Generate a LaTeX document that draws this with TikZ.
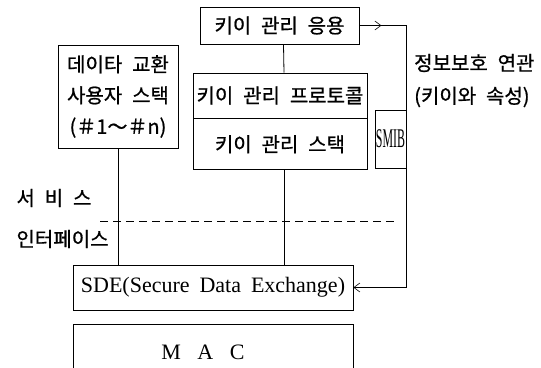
\documentclass[tikz,border=0pt]{standalone}
\usepackage{fontspec}
\setmainfont[WordSpace=1.8]{Liberation Serif}
\newfontfamily\kfont[WordSpace=2.2,FakeBold=0.8]{Noto Sans CJK KR}
\usetikzlibrary{arrows.meta}

\tikzset{
  box/.style={draw, line width=0.8pt, inner sep=0pt, align=center},
  kor/.style={font=\kfont\fontsize{20}{31}\selectfont},
  lat/.style={font=\fontsize{22}{25}\selectfont},
  wire/.style={line width=0.8pt},
  tip/.style={-{Straight Barb[length=6pt,width=9pt,line width=0.6pt]}}
}

\begin{document}
\begin{tikzpicture}[x=1pt,y=-1pt]
  \useasboundingbox (0,0) rectangle (541,367);
  \clip (0,0) rectangle (541,367);

  % key management side
  \node[box,kor,minimum width=159pt,minimum height=37pt] (app) at (279.5,25.5) {키이 관리 응용};
  \node[box,kor,minimum width=174pt,minimum height=45pt] (proto) at (280,95.5) {키이 관리 프로토콜};
  \node[box,kor,minimum width=174pt,minimum height=51pt,anchor=north] (stack) at (proto.south) {키이 관리 스택};
  \node[box,minimum width=31pt,minimum height=58pt] (smib) at (390.5,139)
    {\fontsize{27}{29}\selectfont\scalebox{0.44}[1]{SMIB}};

  % user stack
  \node[box,kor,minimum width=120pt,minimum height=103pt] (user) at (118,96.5) {데이타 교환\\사용자 스택\\(＃1～＃n)};

  % lower layers
  \node[box,lat,minimum width=280pt,minimum height=45pt] (sde) at (213,287.5) {SDE(Secure Data Exchange)};
  \node[box,lat,minimum width=280pt,minimum height=56pt] (mac) at (213,352)
    {M\hspace{0.75em}A\hspace{0.75em}C\hspace{20pt}};

  % labels
  \node[kor,anchor=west] (svc) at (13,198) {서 비 스};
  \node[kor,anchor=west] (ifc) at (13,239) {인터페이스};
  \node[kor,anchor=east] (sa) at (538,63) {정보보호 연관};
  \node[kor,anchor=west] (sa2) at (sa.west |- 0,97) {(키이와 속성)};

  % app -> SMIB
  \coordinate (mid1) at ([xshift=22pt]app.east);
  \coordinate (bend1) at (smib.north east |- app.east);
  \draw[wire,tip] (app.east) -- (mid1);
  \draw[wire] (mid1) -- (bend1) -- (smib.north east);

  % SMIB -> SDE
  \coordinate (bend2) at (smib.south east |- sde.east);
  \draw[wire,tip] (smib.south east) -- (bend2) -- (sde.east);

  % stacks down to SDE
  \draw[wire] ([xshift=4pt]app.south) -- ([xshift=4pt]proto.north);
  \draw[wire] ([xshift=4pt]stack.south) -- ([xshift=4pt]stack.south |- sde.north);
  \draw[wire] (user.south) -- (user.south |- sde.north);

  % service interface
  \coordinate (si1) at (100,221);
  \coordinate (si2) at (398,221);
  \draw[wire,dash pattern=on 8pt off 5pt] (si1) -- (si2);
\end{tikzpicture}
\end{document}
